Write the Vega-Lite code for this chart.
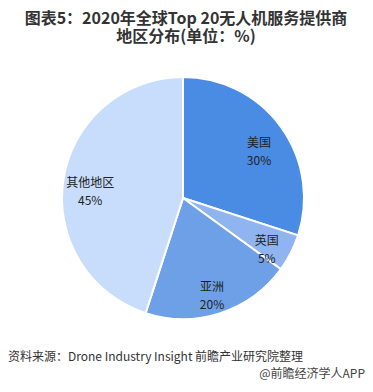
{
  "$schema": "https://vega.github.io/schema/vega-lite/v6.json",
  "background": "white",
  "padding": {"left": 8, "top": 11, "right": 5, "bottom": 0},
  "title": {
    "text": "@前瞻经济学人APP",
    "orient": "bottom",
    "anchor": "end",
    "font": "Noto Sans CJK SC",
    "fontSize": 12,
    "fontWeight": "normal",
    "color": "#444444",
    "offset": 6,
    "dx": 7
  },
  "vconcat": [
    {
      "title": {
        "text": "资料来源：Drone Industry Insight 前瞻产业研究院整理",
        "orient": "bottom",
        "anchor": "start",
        "font": "Noto Sans CJK SC",
        "fontSize": 12,
        "fontWeight": "normal",
        "color": "#333333",
        "offset": 29
      },
      "vconcat": [
        {
          "title": {
            "text": ["图表5：2020年全球Top 20无人机服务提供商", "地区分布(单位：%)"],
            "anchor": "middle",
            "font": "Noto Sans CJK SC",
            "fontSize": 16,
            "fontWeight": "bold",
            "color": "#333333",
            "lineHeight": 18,
            "offset": 28,
            "dx": 3
          },
          "width": 350,
          "height": 250,
          "data": {
            "values": [
              {"region": "美国", "value": 30, "order": 1, "label": "美国\n30%"},
              {"region": "英国", "value": 5, "order": 2, "label": "英国\n5%"},
              {"region": "亚洲", "value": 20, "order": 3, "label": "亚洲\n20%"},
              {"region": "其他地区", "value": 45, "order": 4, "label": "其他地区\n45%"}
            ]
          },
          "encoding": {
            "theta": {"field": "value", "type": "quantitative", "stack": true},
            "order": {"field": "order", "type": "quantitative"},
            "color": {
              "field": "region",
              "type": "nominal",
              "scale": {
                "domain": ["美国", "英国", "亚洲", "其他地区"],
                "range": ["#4a8be3", "#8fb4ef", "#6ea0e8", "#c8ddfb"]
              },
              "legend": null
            }
          },
          "layer": [
            {
              "mark": {"type": "arc", "outerRadius": 121, "stroke": "white", "strokeWidth": 2}
            },
            {
              "mark": {
                "type": "text",
                "radius": 94,
                "lineBreak": "\n",
                "lineHeight": 18,
                "font": "Noto Sans CJK SC",
                "fontSize": 12,
                "fill": "#222222",
                "baseline": "middle",
                "align": "center"
              },
              "encoding": {
                "text": {"field": "label", "type": "nominal"},
                "color": {"value": "#222222"}
              }
            }
          ]
        }
      ]
    }
  ],
  "config": {
    "view": {"stroke": null},
    "concat": {"spacing": 0}
  }
}
